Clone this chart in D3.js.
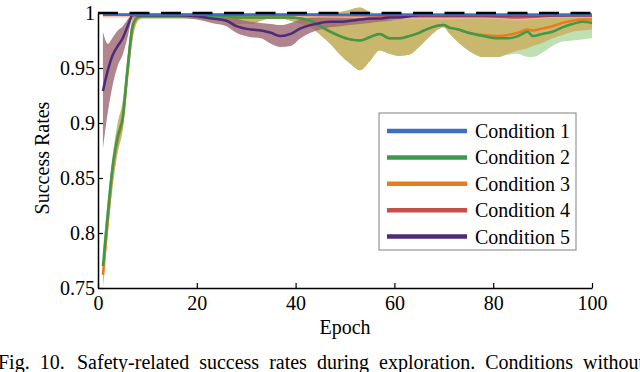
<!DOCTYPE html>
<html>
<head>
<meta charset="utf-8">
<script src="https://cdn.jsdelivr.net/npm/d3@7"></script>
<style>
  body { margin: 0; background: #fff; }
  text { font-family: "Liberation Serif", "Times New Roman", serif; }
</style>
</head>
<body>
<script>
// epochs used by conditions 2, 3 and 5
const epochs = [1,2,3,4,5,6,7,8,9,10, 13,16,20, 23,26,28,31,33,35,37,39,
  41,43,45,47,49,51,53,55,57,59, 61,63,65,67,70,71,73,75,78,
  81,83,85,87,88,90,92,94,96,98,100];

// condition 1 (blue) - stays at the top
const cond1Epochs = [1, 25, 50, 75, 100];
const cond1Mean = [0.9985, 0.9985, 0.9985, 0.9985, 0.9985];
const cond1Lo = [0.998, 0.998, 0.998, 0.998, 0.998];
const cond1Hi = [1.0, 1.0, 1.0, 1.0, 1.0];

// condition 2 (green)
const cond2Mean = [.770,.818,.862,.888,.905,.950,.988,.996,.997,.997, .997,.997,.997,
  .997,.997,.996,.996,.996,.996,.996,.996, .995,.993,.988,.983,.979,.976,.975,.978,.981,.977,
  .977,.979,.982,.986,.989,.987,.985,.982,.979, .977,.977,.979,.983,.979,.981,.983,.987,.990,.992,.991];
const cond2Lo = [.755,.805,.848,.877,.895,.938,.978,.993,.995,.995, .995,.995,.995,
  .994,.992,.990,.990,.993,.995,.995,.993, .990,.987,.980,.972,.962,.954,.948,.956,.966,.963,
  .961,.962,.969,.978,.987,.982,.973,.966,.960, .960,.962,.963,.960,.960,.964,.970,.974,.975,.976,.977];
const cond2Hi = [.785,.832,.872,.900,.918,.960,.995,1,1,1, 1,1,1,
  1,1,1,.999,.999,1,1,1, 1,1,1,1,1.001,1.003,1.005,1.001,.999,.999,
  .999,.999,.999,1,1,1,.999,.999,.999, .999,.999,.999,.999,.999,.999,1,1,1,1,1];

// condition 3 (orange)
const cond3Mean = [.762,.812,.858,.885,.903,.948,.986,.996,.997,.997, .997,.997,.997,
  .997,.997,.996,.996,.996,.996,.996,.996, .995,.993,.988,.983,.979,.976,.975,.978,.981,.977,
  .977,.979,.982,.986,.989,.987,.985,.982,.980, .979,.980,.982,.985,.984,.986,.988,.991,.993,.994,.994];
const cond3Lo = [.750,.800,.843,.873,.893,.935,.975,.992,.995,.995, .995,.995,.995,
  .994,.992,.990,.990,.993,.995,.995,.993, .990,.987,.980,.972,.962,.954,.948,.956,.966,.963,
  .961,.962,.969,.978,.987,.982,.973,.966,.960, .960,.963,.966,.968,.970,.973,.977,.980,.983,.984,.985];
const cond3Hi = [.780,.830,.870,.900,.920,.962,.995,1,1,1, 1,1,1,
  1,1,1,.999,.999,1,1,1, 1,1,1,1,1.001,1.003,1.005,1.001,.999,.999,
  .999,.999,.999,1,1,1,.999,.999,.999, .999,.999,.999,.999,.999,.999,1,1,1,1,1];

// condition 4 (red)
const cond4Epochs = [1,10,20,40,55,62,70,78,85,90,95,100];
const cond4Mean = [.9985,.9985,.9985,.9985,.998,.997,.997,.997,.996,.997,.998,.998];
const cond4Lo = [.996,.996,.996,.996,.995,.994,.994,.995,.993,.995,.996,.996];
const cond4Hi = [1,1,1,1,1,1,1,1,1,1,1,1];

// condition 5 (purple)
const cond5Mean = [.929,.948,.962,.970,.977,.988,.998,.998,.998,.998, .998,.998,.997,
  .995,.993,.988,.985,.984,.982,.979,.981, .986,.989,.991,.992,.992,.993,.994,.995,.995,.996,
  .996,.997,.998,.998,.998,.998,.998,.998,.998, .998,.998,.998,.998,.998,.998,.998,.998,.998,.998,.998];
const cond5Lo = [.877,.910,.935,.952,.962,.978,.995,.996,.996,.996, .996,.996,.994,
  .991,.988,.982,.978,.977,.972,.969,.970, .977,.982,.985,.987,.988,.989,.990,.991,.992,.993,
  .994,.995,.996,.997,.997,.997,.997,.997,.997, .997,.997,.997,.997,.997,.997,.997,.997,.997,.997,.997];
const cond5Hi = [.983,.972,.978,.984,.988,.994,1,1,1,1, 1,1,1,
  .999,.998,.995,.992,.991,.990,.989,.991, .994,.996,.997,.998,.998,.999,.999,1,1,1,
  1,1,1,1,1,1,1,1,1, 1,1,1,1,1,1,1,1,1,1,1];

const conditionNames = ["Condition 1", "Condition 2", "Condition 3", "Condition 4", "Condition 5"];
const xTicks = [0, 20, 40, 60, 80, 100];
const yTicks = [0.75, 0.8, 0.85, 0.9, 0.95, 1];
const yTickLabels = ["0.75", "0.8", "0.85", "0.9", "0.95", "1"];

const zip = (ep, mean, lo, hi) => ep.map((e, i) => ({ e: e, m: mean[i], lo: lo[i], hi: hi[i] }));

const series = [
  { name: conditionNames[0], data: zip(cond1Epochs, cond1Mean, cond1Lo, cond1Hi), color: "#3d6ec2", band: "#a9c0e6", op: 0.7 },
  { name: conditionNames[1], data: zip(epochs, cond2Mean, cond2Lo, cond2Hi), color: "#3b9a4c", band: "#bfe0b2", op: 1 },
  { name: conditionNames[2], data: zip(epochs, cond3Mean, cond3Lo, cond3Hi), color: "#ea7a1c", band: "#c8b468", op: 0.95 },
  { name: conditionNames[3], data: zip(cond4Epochs, cond4Mean, cond4Lo, cond4Hi), color: "#c9504a", band: "#f0b49c", op: 0.8 },
  { name: conditionNames[4], data: zip(epochs, cond5Mean, cond5Lo, cond5Hi), color: "#4e2a78", band: "#9c6672", op: 0.8 }
];

const svg = d3.select("body").append("svg").attr("width", 640).attr("height", 372);

const x = d3.scaleLinear().domain([0, 100]).range([98, 592]);
const y = d3.scaleLinear().domain([0.75, 1]).range([288, 13]);

const area = d3.area()
  .x((d) => x(d.e))
  .y0((d) => y(d.lo))
  .y1((d) => y(d.hi))
  .curve(d3.curveMonotoneX);

const line = d3.line()
  .x((d) => x(d.e))
  .y((d) => y(d.m))
  .curve(d3.curveMonotoneX);

// bands: green, orange, purple, red, blue
[1, 2, 4, 3, 0].forEach((i) => {
  const s = series[i];
  svg.append("path")
    .attr("d", area(s.data))
    .attr("fill", s.band)
    .attr("fill-opacity", s.op);
});

// lines: red, orange, green, purple, blue
[3, 2, 1, 4, 0].forEach((i) => {
  const s = series[i];
  svg.append("path")
    .attr("d", line(s.data))
    .attr("fill", "none")
    .attr("stroke", s.color)
    .attr("stroke-width", 2.5);
});

// dashed reference line at 1
svg.append("line")
  .attr("x1", x(0)).attr("x2", x(100))
  .attr("y1", y(1)).attr("y2", y(1))
  .attr("stroke", "#000")
  .attr("stroke-width", 2.5)
  .attr("stroke-dasharray", "20,11.5")
  .attr("stroke-dashoffset", 0);

// axes
const xAxis = svg.append("g")
  .attr("transform", "translate(0,288)")
  .call(d3.axisBottom(x).tickValues(xTicks).tickSizeInner(-5).tickSizeOuter(0).tickPadding(8));

const yAxis = svg.append("g")
  .attr("transform", "translate(98,0)")
  .call(d3.axisLeft(y).tickValues(yTicks).tickSizeInner(-5).tickSizeOuter(0).tickPadding(3)
    .tickFormat((d, i) => yTickLabels[i]));

[xAxis, yAxis].forEach((g) => {
  g.select(".domain").attr("stroke", "#000").attr("stroke-width", 1.5);
  g.selectAll(".tick line").attr("stroke", "#000").attr("stroke-width", 1.2);
  g.selectAll(".tick text")
    .attr("fill", "#000")
    .style("font-family", '"Liberation Serif", "Times New Roman", serif')
    .style("font-size", "20px");
});

svg.append("text")
  .attr("x", 345).attr("y", 334)
  .attr("text-anchor", "middle")
  .style("font-size", "20px")
  .text("Epoch");

svg.append("text")
  .attr("transform", "translate(49,158) rotate(-90)")
  .attr("text-anchor", "middle")
  .style("font-size", "20px")
  .text("Success Rates");

// legend
const legend = svg.append("g");
legend.append("rect")
  .attr("x", 379).attr("y", 113)
  .attr("width", 197).attr("height", 137)
  .attr("fill", "#fff")
  .attr("stroke", "#808080")
  .attr("stroke-width", 1);

series.forEach((s, i) => {
  const ly = 131 + i * 26.4;
  legend.append("line")
    .attr("x1", 387).attr("x2", 467)
    .attr("y1", ly).attr("y2", ly)
    .attr("stroke", s.color)
    .attr("stroke-width", 4.5);
  legend.append("text")
    .attr("x", 475).attr("y", ly)
    .attr("dy", "0.35em")
    .style("font-size", "20px")
    .text(s.name);
});

// caption (cut off at the right edge like the source)
const caption = svg.append("text")
  .attr("y", 369)
  .style("font-size", "20px")
  .style("word-spacing", "5px");
caption.append("tspan").attr("x", -2).text("Fig. 10.");
caption.append("tspan").attr("x", 77)
  .text("Safety-related success rates during exploration. Conditions without");
</script>
</body>
</html>
